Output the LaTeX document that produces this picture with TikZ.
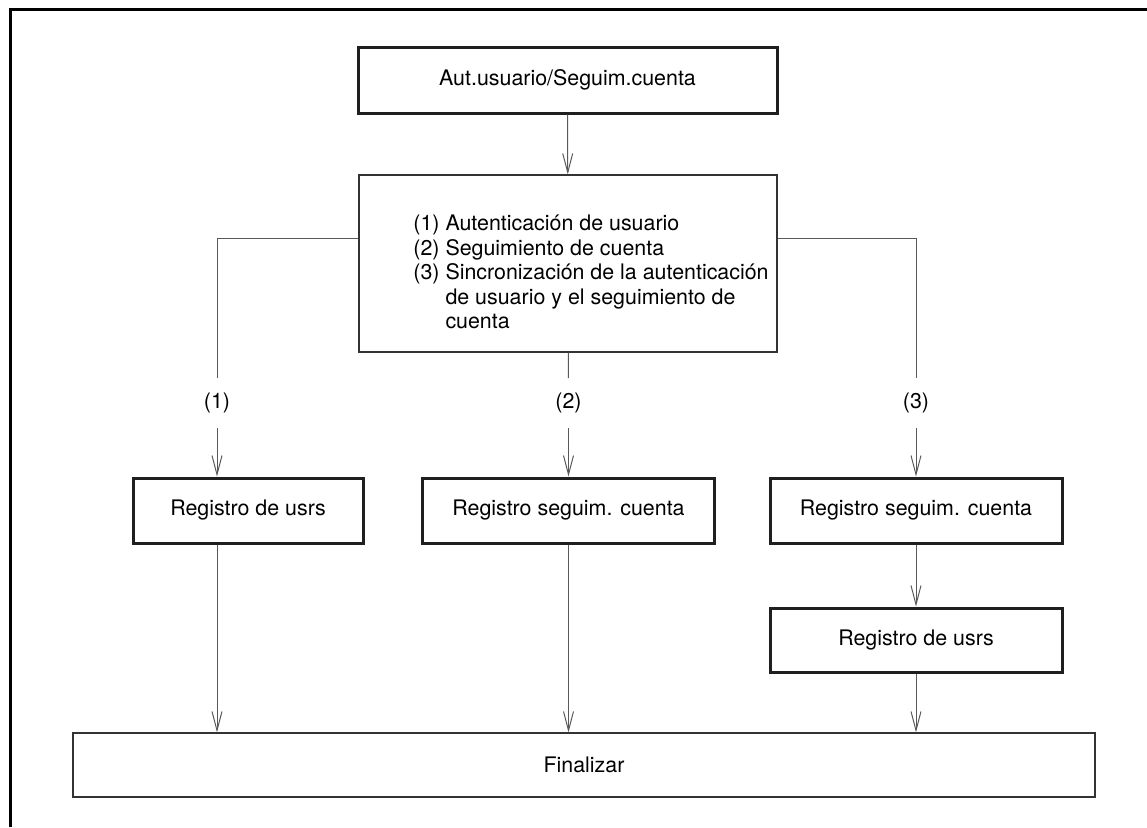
\documentclass[tikz,border=0pt]{standalone}
\usepackage{fontspec}
\setmainfont{TeX Gyre Heros}
\usetikzlibrary{arrows.meta,positioning}

\begin{document}
\begin{tikzpicture}[
  x=0.5pt, y=-0.5pt,
  font=\fontsize{10.7}{12.25}\selectfont,
  thickbox/.style={rectangle, draw=black!88, line width=1.5pt, align=center,
                   minimum width=#1, minimum height=32.5pt, inner sep=0pt},
  listbox/.style={rectangle, draw=black!80, line width=0.6pt, align=center, inner sep=0pt},
  tag/.style={rectangle, inner sep=0pt, minimum height=24.5pt},
  line/.style={draw=black!65, line width=0.5pt},
  arrow/.style={-{Straight Barb[length=9.5pt, width=5pt]}, draw=black!65, line width=0.5pt}
]
\useasboundingbox (0,0) rectangle (1147,827);
\draw[line width=1.5pt] (10,827) -- (10,9) -- (1147,9);

\node[thickbox=209.5pt, minimum height=33pt] (head) at (567.5,80) {Aut.usuario/Seguim.cuenta};
\node[listbox, minimum width=209pt, minimum height=88.5pt] (menu) at (568,263.5) {};
\node[anchor=west, align=left, inner sep=0pt] (menutext) at (413,272)
  {(1) Autenticación de usuario\\(2) Seguimiento de cuenta\\(3) Sincronización de la autenticación\\
   \hphantom{(3)~}de usuario y el seguimiento de\\\hphantom{(3)~}cuenta};

\coordinate (forkL) at (217,238);
\coordinate (forkR) at (916,238);
\node[tag] (tag1) at (217,403) {(1)};
\node[tag] (tag2) at (568.5,403) {(2)};
\node[tag] (tag3) at (916,403) {(3)};

\node[thickbox=115pt] (usr1) at (248,510.5) {Registro de usrs};
\node[thickbox=146pt] (seg2) at (568.5,510.5) {Registro seguim. cuenta};
\node[thickbox=146pt] (seg3) at (916,510.5) {Registro seguim. cuenta};
\node[thickbox=146pt, minimum height=32pt] (usr3) at (916,640) {Registro de usrs};
\node[listbox, minimum width=511pt, minimum height=32pt] (fin) at (584,765) {Finalizar};

\draw[arrow] (head) -- (menu);
\draw[line] (forkL -| menu.west) -- (forkL) -- (tag1);
\draw[line] (forkR -| menu.east) -- (forkR) -- (tag3);
\draw[line] (menu) -- (tag2);
\draw[arrow] (tag1) -- (tag1 |- usr1.north);
\draw[arrow] (tag2) -- (seg2);
\draw[arrow] (tag3) -- (seg3);
\draw[arrow] (usr1.south -| tag1) -- (tag1 |- fin.north);
\draw[arrow] (seg2) -- (seg2 |- fin.north);
\draw[arrow] (seg3) -- (usr3);
\draw[arrow] (usr3) -- (usr3 |- fin.north);
\end{tikzpicture}
\end{document}
